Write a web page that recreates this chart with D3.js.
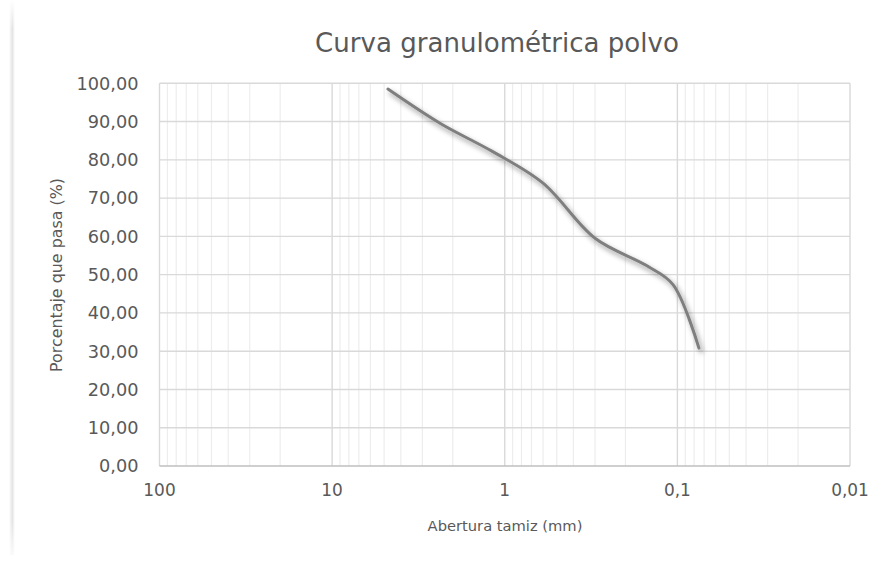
<!DOCTYPE html>
<html>
<head>
<meta charset="utf-8">
<script src="https://cdn.jsdelivr.net/npm/d3@7/dist/d3.min.js"></script>
<style>
  html, body { margin: 0; padding: 0; background: #fff; }
  svg { display: block; }
  text { font-family: "DejaVu Sans", sans-serif; fill: #595959; }
</style>
</head>
<body>
<svg id="chart" width="887" height="566"></svg>
<script>
// Sieve openings (mm) and cumulative percentage passing
const sieveSizes = [4.75, 2.36, 1.18, 0.6, 0.3, 0.15, 0.106, 0.075];
const percentPassing = [98.5, 89.5, 82.2, 73.9, 59.5, 52.3, 47.4, 30.8];

// Axis ticks
const xTickValues = [100, 10, 1, 0.1, 0.01];
const xTickLabels = ["100", "10", "1", "0,1", "0,01"];
const yTickValues = [0, 10, 20, 30, 40, 50, 60, 70, 80, 90, 100];

const chartTitle = "Curva granulométrica polvo";
const xTitle = "Abertura tamiz (mm)";
const yTitle = "Porcentaje que pasa (%)";

const W = 887, H = 566;
const plot = { left: 159.5, right: 850, top: 83.3, bottom: 466 };

const svg = d3.select("#chart");

// Log scale, coarse sizes on the left
const x = d3.scaleLog().domain([100, 0.01]).range([plot.left, plot.right]);
const y = d3.scaleLinear().domain([0, 100]).range([plot.bottom, plot.top]);

// Chart area edge on the left side
const defs = svg.append("defs");
const edgeGrad = defs.append("linearGradient").attr("id", "edge").attr("x1", 0).attr("x2", 1);
edgeGrad.append("stop").attr("offset", 0).attr("stop-color", "#ffffff");
edgeGrad.append("stop").attr("offset", 0.55).attr("stop-color", "#e3e3e3");
edgeGrad.append("stop").attr("offset", 1).attr("stop-color", "#ffffff");
const edgeFade = defs.append("linearGradient").attr("id", "edgeFade").attr("x1", 0).attr("x2", 0).attr("y1", 0).attr("y2", 1);
edgeFade.append("stop").attr("offset", 0).attr("stop-color", "#fff").attr("stop-opacity", 0);
edgeFade.append("stop").attr("offset", 0.05).attr("stop-color", "#fff").attr("stop-opacity", 1);
edgeFade.append("stop").attr("offset", 0.92).attr("stop-color", "#fff").attr("stop-opacity", 1);
edgeFade.append("stop").attr("offset", 1).attr("stop-color", "#fff").attr("stop-opacity", 0);
const mask = defs.append("mask").attr("id", "edgeMask");
mask.append("rect").attr("x", 0).attr("y", 0).attr("width", 30).attr("height", H).attr("fill", "url(#edgeFade)");
svg.append("rect").attr("x", 9).attr("y", 0).attr("width", 6).attr("height", 555)
  .attr("fill", "url(#edge)").attr("mask", "url(#edgeMask)");

// Line shadow
const shadow = defs.append("filter").attr("id", "shadow")
  .attr("x", "-10%").attr("y", "-10%").attr("width", "130%").attr("height", "130%");
shadow.append("feDropShadow").attr("dx", 2.5).attr("dy", 3.5).attr("stdDeviation", 2.6)
  .attr("flood-color", "#000").attr("flood-opacity", 0.42);

const grid = svg.append("g");

// Minor vertical gridlines (2..9 within each decade)
const minorX = [];
[0.01, 0.1, 1, 10].forEach(base => {
  for (let k = 2; k <= 9; k++) minorX.push(base * k);
});
grid.selectAll(".minor").data(minorX).join("line")
  .attr("x1", d => x(d)).attr("x2", d => x(d))
  .attr("y1", plot.top).attr("y2", plot.bottom)
  .attr("stroke", "#ededed").attr("stroke-width", 1.2);

// Horizontal gridlines
grid.selectAll(".hgrid").data(yTickValues.filter(v => v > 0)).join("line")
  .attr("x1", plot.left).attr("x2", plot.right)
  .attr("y1", d => y(d)).attr("y2", d => y(d))
  .attr("stroke", "#d9d9d9").attr("stroke-width", 1.4);

// Major vertical gridlines (decades)
grid.selectAll(".major").data(xTickValues).join("line")
  .attr("x1", d => x(d)).attr("x2", d => x(d))
  .attr("y1", plot.top).attr("y2", plot.bottom)
  .attr("stroke", "#d9d9d9").attr("stroke-width", 1.4);

// Bottom axis line
grid.append("line")
  .attr("x1", plot.left).attr("x2", plot.right)
  .attr("y1", plot.bottom).attr("y2", plot.bottom)
  .attr("stroke", "#bfbfbf").attr("stroke-width", 1.4);

// Grading curve
const pts = sieveSizes.map((s, i) => [s, percentPassing[i]]);
const line = d3.line()
  .x(d => x(d[0])).y(d => y(d[1]))
  .curve(d3.curveCatmullRom.alpha(0.5));
svg.append("path").datum(pts)
  .attr("d", line)
  .attr("fill", "none")
  .attr("stroke", "#7f7f7f")
  .attr("stroke-width", 3)
  .attr("stroke-linecap", "round")
  .attr("filter", "url(#shadow)");

// Size a label so that its rendered width equals the given width
function fitWidth(sel, width) {
  const node = sel.node();
  const base = parseFloat(sel.attr("font-size"));
  const w = node.getComputedTextLength();
  if (w > 0) sel.attr("font-size", (base * width / w).toFixed(2));
  return sel;
}

// Y tick labels
const yLab = svg.append("g");
yTickValues.forEach(v => {
  yLab.append("text")
    .attr("x", 138.5).attr("y", y(v)).attr("dy", "0.36em")
    .attr("text-anchor", "end").attr("font-size", 16)
    .text(d3.format(".2f")(v).replace(".", ","));
});
{
  const t = yLab.selectAll("text").filter(function () { return this.textContent === "100,00"; });
  fitWidth(t, 62);
  yLab.selectAll("text").attr("font-size", t.attr("font-size"));
}

// X tick labels
const xLab = svg.append("g");
xTickValues.forEach((v, i) => {
  xLab.append("text")
    .attr("x", x(v)).attr("y", 496)
    .attr("text-anchor", "middle").attr("font-size", 16)
    .text(xTickLabels[i]);
});
{
  const t = xLab.selectAll("text").filter(function () { return this.textContent === "10"; });
  fitWidth(t, 21.6);
  xLab.selectAll("text").attr("font-size", t.attr("font-size"));
}

// Titles
fitWidth(svg.append("text").attr("x", 497).attr("y", 52)
  .attr("text-anchor", "middle").attr("font-size", 20).text(chartTitle), 364);

fitWidth(svg.append("text").attr("x", 505).attr("y", 531)
  .attr("text-anchor", "middle").attr("font-size", 13).text(xTitle), 155);

fitWidth(svg.append("text")
  .attr("transform", `translate(62,275) rotate(-90)`)
  .attr("text-anchor", "middle").attr("font-size", 13).text(yTitle), 194);
</script>
</body>
</html>
